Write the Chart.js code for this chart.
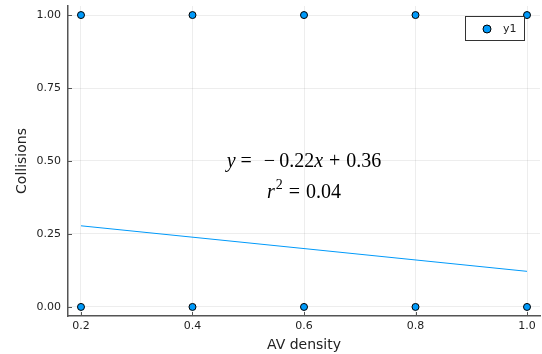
<!DOCTYPE html>
<html>
<head>
<meta charset="utf-8">
<script src="https://cdn.jsdelivr.net/npm/chart.js@4"></script>
<style>
  html, body { margin: 0; padding: 0; background: #fff; }
  #wrap { width: 542px; height: 354px; }
</style>
</head>
<body>
<div id="wrap"><canvas id="chart" width="542" height="354"></canvas></div>
<script>
// data
const densities = [0.2, 0.4, 0.6, 0.8, 1.0];
const collisionsHigh = [1, 1, 1, 1, 1];
const collisionsLow = [0, 0, 0, 0, 0];
const fitX = [0.2, 1.0];
const fitY = [0.278, 0.122];
const xTicks = [0.2, 0.4, 0.6, 0.8, 1.0];
const xTickLabels = ["0.2", "0.4", "0.6", "0.8", "1.0"];
const yTicks = [0, 0.25, 0.5, 0.75, 1];
const yTickLabels = ["0.00", "0.25", "0.50", "0.75", "1.00"];
const seriesName = "y1";
const eqText = { x: 0.6, y: 0.497 };
const r2Text = { x: 0.6, y: 0.392 };

const blue = "#009AFA";
const axisColor = "#555";

const points = [];
densities.forEach((d, i) => {
  points.push({ x: d, y: collisionsLow[i] });
  points.push({ x: d, y: collisionsHigh[i] });
});

// tick marks on the inside of the axes, like Plots/GR
const innerTicks = {
  id: "innerTicks",
  afterDraw(chart) {
    const { ctx, chartArea, scales } = chart;
    ctx.save();
    ctx.strokeStyle = axisColor;
    ctx.lineWidth = 1;
    ctx.beginPath();
    yTicks.forEach((v) => {
      const py = Math.round(scales.y.getPixelForValue(v)) + 0.5;
      ctx.moveTo(chartArea.left, py);
      ctx.lineTo(chartArea.left + 4, py);
    });
    xTicks.forEach((v) => {
      const px = Math.round(scales.x.getPixelForValue(v)) + 0.5;
      ctx.moveTo(px, chartArea.bottom);
      ctx.lineTo(px, chartArea.bottom - 4);
    });
    ctx.stroke();
    ctx.restore();
  },
};

// fit equation and legend box
const extras = {
  id: "extras",
  afterDatasetsDraw(chart) {
    const { ctx, scales, chartArea } = chart;
    ctx.save();
    ctx.fillStyle = "#000";
    ctx.textBaseline = "middle";
    ctx.textAlign = "left";

    // parts: [text, font, gap after, dy]
    function drawParts(parts, cx, cy) {
      let total = 0;
      parts.forEach((p) => {
        ctx.font = p[1];
        total += ctx.measureText(p[0]).width + p[2];
      });
      let x = cx - total / 2;
      parts.forEach((p) => {
        ctx.font = p[1];
        ctx.fillText(p[0], x, cy + (p[3] || 0));
        x += ctx.measureText(p[0]).width + p[2];
      });
    }
    const it = "italic 20px 'Liberation Serif'";
    const rm = "20px 'Liberation Serif'";
    const sup = "14px 'Liberation Serif'";
    drawParts(
      [["y", it, 5], ["=", rm, 12], ["\u2212", rm, 4], ["0.22", rm, 0], ["x", it, 6], ["+", rm, 6], ["0.36", rm, 0]],
      scales.x.getPixelForValue(eqText.x),
      scales.y.getPixelForValue(eqText.y)
    );
    drawParts(
      [["r", it, 1], ["2", sup, 6, -7], ["=", rm, 6], ["0.04", rm, 0]],
      scales.x.getPixelForValue(r2Text.x),
      scales.y.getPixelForValue(r2Text.y)
    );

    // legend
    const bx = chartArea.right - 75, by = chartArea.top + 10, bw = 59, bh = 24;
    ctx.fillStyle = "#fff";
    ctx.fillRect(bx, by, bw, bh);
    ctx.strokeStyle = "#333";
    ctx.lineWidth = 1;
    ctx.strokeRect(bx + 0.5, by + 0.5, bw, bh);
    ctx.beginPath();
    ctx.arc(bx + 22, by + 13, 4, 0, Math.PI * 2);
    ctx.fillStyle = blue;
    ctx.fill();
    ctx.strokeStyle = "#000";
    ctx.stroke();
    ctx.fillStyle = "#222";
    ctx.font = "11px 'DejaVu Sans'";
    ctx.fillText(seriesName, bx + 38, by + 13);
    ctx.restore();
  },
};

new Chart(document.getElementById("chart"), {
  type: "scatter",
  data: {
    datasets: [
      {
        type: "line",
        label: "fit",
        data: fitX.map((x, i) => ({ x: x, y: fitY[i] })),
        borderColor: blue,
        borderWidth: 1,
        pointRadius: 0,
        fill: false,
      },
      {
        label: seriesName,
        data: points,
        backgroundColor: blue,
        borderColor: "#000",
        borderWidth: 1,
        pointRadius: 3.5,
      },
    ],
  },
  options: {
    responsive: false,
    animation: false,
    devicePixelRatio: 1,
    layout: { autoPadding: false, padding: { top: 6, right: 2, left: 0, bottom: 0 } },
    plugins: { legend: { display: false }, tooltip: { enabled: false } },
    scales: {
      x: {
        type: "linear",
        min: 0.1767,
        max: 1.0233,
        afterFit: (s) => { s.height = 38; s.paddingLeft = 0; s.paddingRight = 0; },
        afterBuildTicks: (s) => { s.ticks = xTicks.map((v) => ({ value: v })); },
        ticks: {
          callback: (v) => xTickLabels[xTicks.indexOf(v)] ?? "",
          color: "#222",
          font: { family: "DejaVu Sans", size: 11 },
          padding: 4,
          maxRotation: 0,
        },
        grid: { color: "rgba(0,0,0,0.07)", lineWidth: 1, tickLength: 0 },
        border: { color: axisColor, width: 1.5 },
        title: {
          display: true,
          text: "AV density",
          color: "#222",
          font: { family: "DejaVu Sans", size: 14 },
          padding: { top: 0, bottom: 0 },
        },
      },
      y: {
        type: "linear",
        min: -0.031,
        max: 1.031,
        afterFit: (s) => { s.width = 68; s.paddingTop = 0; s.paddingBottom = 0; },
        afterBuildTicks: (s) => { s.ticks = yTicks.map((v) => ({ value: v })); },
        ticks: {
          callback: (v) => yTickLabels[yTicks.indexOf(v)] ?? "",
          color: "#222",
          font: { family: "DejaVu Sans", size: 11 },
          padding: 7,
        },
        grid: { color: "rgba(0,0,0,0.07)", lineWidth: 1, tickLength: 0 },
        border: { color: axisColor, width: 1.5 },
        title: {
          display: true,
          text: "Collisions",
          color: "#222",
          font: { family: "DejaVu Sans", size: 14 },
          padding: { top: 14, bottom: 0 },
        },
      },
    },
  },
  plugins: [innerTicks, extras],
});
</script>
</body>
</html>
